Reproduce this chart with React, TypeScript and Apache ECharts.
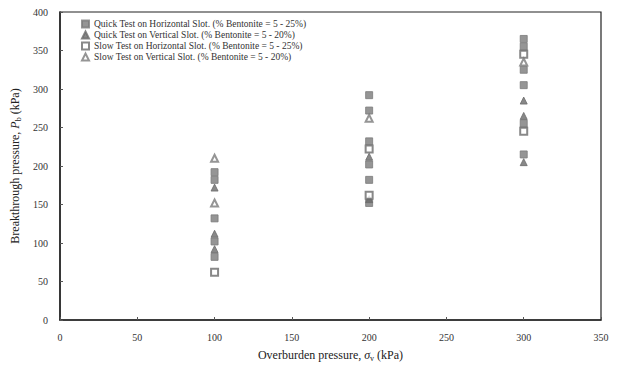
import React, { useEffect, useRef } from "react";
import * as echarts from "echarts";

const xTicks = [0, 50, 100, 150, 200, 250, 300, 350];
const seriesNames = [
  "Quick Test on Horizontal Slot. (% Bentonite = 5 - 25%)",
  "Quick Test on Vertical Slot. (% Bentonite = 5 - 20%)",
  "Slow Test on Horizontal Slot. (% Bentonite = 5 - 25%)",
  "Slow Test on Vertical Slot. (% Bentonite = 5 - 20%)",
];
const quickHorizontal: [number, number][] = [
  [100, 192], [100, 182], [100, 132], [100, 102], [100, 82],
  [200, 292], [200, 272], [200, 232], [200, 202], [200, 182], [200, 152],
  [300, 365], [300, 355], [300, 325], [300, 305], [300, 255], [300, 215],
];
const quickVertical: [number, number][] = [
  [100, 172], [100, 112], [100, 92],
  [200, 212], [200, 157],
  [300, 285], [300, 265], [300, 205],
];
const slowHorizontal: [number, number][] = [
  [100, 62],
  [200, 222], [200, 162],
  [300, 345], [300, 245],
];
const slowVertical: [number, number][] = [
  [100, 210], [100, 152],
  [200, 262],
  [300, 335],
];

const FONT = "'Liberation Serif', 'DejaVu Serif', serif";

export default function App() {
  const ref = useRef<HTMLDivElement>(null);
  useEffect(() => {
    if (!ref.current) return;
    const chart = echarts.init(ref.current, null, { renderer: "svg" });
    const mk = (name: string, data: [number, number][], symbol: string, color: string) => ({
      name,
      type: "scatter",
      data,
      symbol,
      symbolSize: 7,
      itemStyle: { color, borderColor: color, borderWidth: 1 },
    });
    chart.setOption({
      animation: false,
      backgroundColor: "#fff",
      grid: { left: 60, right: 18, top: 12, bottom: 44, show: true, borderColor: "#222", borderWidth: 1.2 },
      legend: {
        orient: "vertical",
        left: 76,
        top: 14,
        itemWidth: 7,
        itemHeight: 7,
        itemGap: 1,
        textStyle: { fontFamily: FONT, fontSize: 9.5, color: "#333", lineHeight: 10 },
        data: seriesNames,
      },
      xAxis: {
        type: "value",
        min: 0,
        max: 350,
        interval: 50,
        data: xTicks,
        name: "{n|Overburden pressure, }{i|σ}{s|v}{n| (kPa)}",
        nameLocation: "middle",
        nameGap: 28,
        nameTextStyle: {
          rich: {
            n: { fontFamily: FONT, fontSize: 12, color: "#222" },
            i: { fontFamily: FONT, fontSize: 12, fontStyle: "italic", color: "#222" },
            s: { fontFamily: FONT, fontSize: 8, color: "#222", padding: [6, 0, 0, 0] },
          },
        },
        axisLine: { lineStyle: { color: "#222", width: 1.5 } },
        axisTick: { inside: true, length: 3, lineStyle: { color: "#555" } },
        axisLabel: { fontFamily: FONT, fontSize: 10, color: "#333", margin: 12 },
        splitLine: { show: false },
      },
      yAxis: {
        type: "value",
        min: 0,
        max: 400,
        interval: 50,
        name: "{n|Breakthrough pressure, }{i|P}{s|b}{n| (kPa)}",
        nameLocation: "middle",
        nameGap: 36,
        nameRotate: 90,
        nameTextStyle: {
          rich: {
            n: { fontFamily: FONT, fontSize: 12, color: "#222" },
            i: { fontFamily: FONT, fontSize: 12, fontStyle: "italic", color: "#222" },
            s: { fontFamily: FONT, fontSize: 8, color: "#222", padding: [6, 0, 0, 0] },
          },
        },
        axisLine: { lineStyle: { color: "#222", width: 1.5 } },
        axisTick: { inside: true, length: 3, lineStyle: { color: "#555" } },
        axisLabel: { fontFamily: FONT, fontSize: 10, color: "#333", margin: 12 },
        splitLine: { show: false },
      },
      series: [
        mk(seriesNames[0], quickHorizontal, "rect", "#7a7a7a"),
        mk(seriesNames[1], quickVertical, "triangle", "#6a6a6a"),
        mk(seriesNames[2], slowHorizontal, "emptyRect", "#6a6a6a"),
        mk(seriesNames[3], slowVertical, "emptyTriangle", "#7a7a7a"),
      ],
    });
    return () => chart.dispose();
  }, []);
  return <div ref={ref} style={{ width: 619, height: 367, position: "absolute", left: 0, top: 0 }} />;
}
